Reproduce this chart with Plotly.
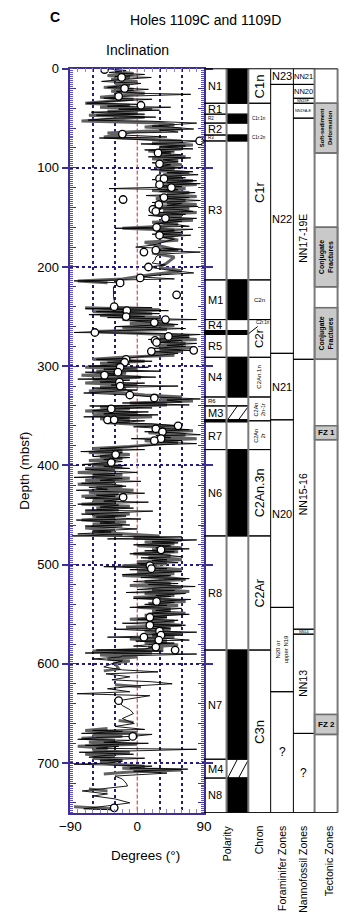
import plotly.graph_objects as go

# ---------------- DATA ----------------
# long-core inclination (thin black line): depth (mbsf) and inclination (deg)
line_depth = [0,2,4,6,8,9,11,13,15,17,19,21,23,25,26,28,30,31,33,35,
              36,38,39,41,42,44,46,47,49,50,52,53,55,56,58,59,61,62,64,65,67,69,70,
              72,73,75,76,78,79,81,82,84,85,87,89,90,92,94,95,97,99,100,102,104,105,107,109,
              110,112,113,115,116,118,119,121,122,124,125,127,128,130,131,133,135,136,138,139,
              141,142,144,145,147,148,150,151,153,154,156,157,159,161,162,
              164,165,167,168,170,172,174,176,178,180,182,183,185,187,190,193,196,198,200,203,
              206,208,210,212,214,216,
              220,230,238,240,241,242,244,245,247,248,250,251,253,254,256,258,260,262,264,266,267,
              268,270,271,273,274,276,277,279,280,282,284,285,287,289,290,
              292,293,295,296,298,300,301,303,305,306,308,309,311,313,314,316,317,319,320,322,
              324,325,327,329,
              331,333,334,336,337,339,340,342,343,345,346,348,349,351,352,354,355,357,
              358,360,361,363,364,366,367,369,370,372,373,375,376,378,379,381,383,384,386,387,
              389,391,392,394,396,397,399,400,
              401,403,404,406,407,409,410,412,413,415,416,418,419,421,422,424,425,427,428,430,
              431,433,434,436,437,439,440,442,443,445,446,448,449,451,452,454,455,457,458,460,
              461,463,464,466,467,469,470,
              471,472,474,475,477,478,480,481,483,484,486,487,489,490,492,493,495,496,498,499,
              501,502,504,505,507,508,510,511,513,514,516,517,519,520,522,523,525,526,528,529,
              531,532,534,535,537,538,540,541,543,544,546,547,549,550,552,553,555,556,558,559,
              561,562,564,565,567,568,570,571,573,574,576,577,579,580,582,583,585,
              586,587,589,590,592,593,595,597,
              600,603,606,608,610,613,616,618,620,622,625,628,630,632,634,637,642,646,650,655,
              660,663,666,
              667,668,670,671,673,674,676,677,679,680,682,683,685,686,688,689,691,692,694,695,
              697,698,
              700,701,703,705,706,708,710,713,716,720,723,726,728,731,733,736,740,743,746,747]
line_incl = [-44,-15,-38,10,-30,19,-22,-48,5,-20,-40,15,-28,5,72,-18,-45,20,-35,-68,
             5,-40,45,-25,30,-62,10,-55,25,-30,-66,15,80,60,20,45,76,30,55,-10,-20,40,-51,
             20,85,50,5,65,30,75,10,50,28,60,15,72,35,55,20,45,28,62,18,75,40,82,30,
             65,20,80,40,85,25,60,-38,55,30,78,45,12,70,35,85,20,60,40,82,
             18,55,75,30,65,15,45,80,38,60,25,50,70,-30,75,
             30,60,20,72,35,50,40,30,20,-2,60,24,85,30,25,24,20,38,15,40,
             76,30,4,50,-85,-23,
             -32,-32,-30,-31,20,-70,42,-55,30,-65,10,-40,80,-10,23,55,-30,65,-20,-85,20,
             85,42,70,15,60,26,80,40,65,20,76,19,55,30,10,
             -15,-55,20,-40,-10,-65,15,-45,30,-70,-20,-44,25,-80,-10,-50,10,-35,55,-60,
             0,-30,-72,-10,
             23,85,40,60,-20,70,-64,20,-35,-60,15,-45,28,-72,-10,-40,10,-30,
             20,55,-5,40,70,10,50,85,25,45,-8,60,20,80,30,-5,-50,10,-76,-20,
             -29,-60,-10,-45,-20,-35,-74,-15,
             -45,-10,-70,-25,0,-60,-30,-85,-20,-50,5,-75,-35,-15,-65,-40,-82,-20,10,-55,
             -30,-70,-19,-45,15,-80,-25,-50,-5,-70,21,-40,-75,-15,-55,5,-82,-30,-50,-10,
             -70,-25,0,-60,-35,-80,-20,
             -88,60,-40,80,20,55,-5,45,25,70,10,50,-10,35,60,5,40,20,55,0,
             17,-45,40,-10,60,25,-20,45,5,70,30,-5,55,15,78,35,0,50,-15,65,
             25,45,-5,72,26,50,10,40,-10,60,25,45,15,70,20,40,0,55,30,-20,
             65,20,45,-30,30,80,10,60,-40,35,70,-2,50,25,-5,24,10,
             -55,35,-70,80,-20,-23,-60,-20,
             -35,-45,-20,28,-42,-10,-34,20,47,0,-40,-10,-81,17,0,-25,-20,-10,-5,-20,
             -4,-30,10,
             -60,-20,-75,20,-6,-50,-80,-10,-45,15,-70,-25,-55,80,-30,-78,-5,-40,-65,10,
             -50,-20,
             -40,-85,20,-10,68,-5,40,-30,-20,-15,-13,-50,-74,-40,-59,-30,-10,-40,-72,-30]

# second record (thick grey line); None = no data
band_depth = [3,5,7,9,11,13,15,17,19,21,23,25,27,29,31,33,
              35,37,39,41,43,45,47,49,51,53,55,57,59,61,63,65,67,69,
              71,73,75,77,79,81,83,85,87,89,91,93,95,97,99,101,103,105,107,109,
              111,113,115,117,119,121,123,125,127,129,131,133,135,137,139,141,143,145,147,149,
              151,153,155,157,159,
              161,163,165,167,169,171,173,175,180,183,186,190,196,200,204,208,212,214,216,
              None,
              241,243,245,247,249,251,253,255,257,259,261,263,265,267,
              269,271,273,275,277,279,281,283,285,287,289,
              291,293,295,297,299,301,303,305,307,309,311,313,315,317,319,321,323,325,327,329,
              331,333,335,337,339,341,343,
              345,347,349,351,353,355,357,
              359,361,363,365,367,369,371,373,375,377,379,381,
              383,385,387,389,391,393,395,397,399,
              401,403,405,407,409,411,413,415,417,419,421,423,425,427,429,431,433,435,437,439,
              441,443,445,447,449,451,453,455,457,459,461,463,465,467,469,
              471,473,475,477,479,481,483,485,487,489,491,493,495,497,499,
              501,503,505,507,509,511,513,515,517,519,521,523,525,527,529,531,533,535,537,539,
              541,543,545,547,549,551,553,555,557,559,561,563,565,567,569,571,573,575,577,579,
              581,583,585,
              587,589,591,593,595,597,599,
              605,607,None,621,623,None,657,659,None,
              665,667,669,671,673,675,677,679,681,683,685,687,689,691,693,695,697,699,
              701,703,705,707,709,711,
              None,726,728,None,744,746]
band_incl = [-30,-5,-40,-10,-35,0,-30,-10,-45,-5,-35,10,-20,-50,-5,-40,
             -70,-10,-50,20,-40,0,-65,10,-40,-75,30,50,10,60,15,-40,-20,-45,
             10,60,20,75,30,60,15,45,30,65,20,55,35,60,25,50,30,70,35,60,
             25,75,35,80,30,65,20,70,40,80,25,65,40,80,20,70,35,80,25,60,
             40,75,20,55,35,
             -20,50,25,60,30,45,55,10,40,55,20,50,40,30,60,15,-20,-80,-40,
             None,
             -70,30,-60,20,-50,30,-20,40,-10,50,-20,40,-60,10,
             70,30,80,20,65,25,75,30,60,20,50,
             -20,-60,10,-50,-20,-70,0,-55,-15,-75,5,-60,-20,-70,0,-50,-15,-65,-20,10,
             60,30,75,-10,40,-50,-10,
             -70,0,-60,20,-50,-10,-40,
             10,60,20,75,15,65,30,80,10,55,20,-10,
             -60,-20,-65,-10,-50,-20,-65,-30,-60,
             -20,-70,-30,-80,-20,-60,-10,-70,-30,-80,-20,-55,-5,-65,-25,-75,-15,-60,-30,-75,
             -10,-55,-25,-70,-10,-60,-30,-75,-15,-60,-20,-70,-30,-60,-10,
             30,-5,60,10,50,0,60,20,55,-5,45,15,60,0,40,
             -20,30,60,0,50,-20,40,65,10,45,-10,60,20,70,10,50,-5,40,65,15,
             55,0,45,20,65,10,40,-10,50,20,60,-15,45,10,60,20,50,-10,40,10,
             55,15,35,
             -60,20,-50,0,-40,-10,-30,
             -25,-45,None,-30,5,None,-25,-5,None,
             -40,-70,0,-60,-20,-75,-30,-65,0,-80,-40,-60,-10,-70,-30,-60,-20,-50,
             -30,10,-20,60,-10,-45,
             None,-65,-40,None,-85,-35]

# discrete samples (open circles)
disc_depth = [1,9,20,28,37,66,73,85,96,111,111,117,120,132,130,137,142,144,151,160,
              168,185,183,200,211,216,228,240,244,250,253,256,266,270,274,276,285,284,293,296,
              301,306,309,316,320,329,332,343,354,354,360,363,366,373,375,389,397,432,485,501,
              504,537,553,561,567,571,573,576,583,586,637,673,745]
disc_incl = [-44,-21,-17,-25,5,-20,84,28,30,30,36,30,46,-19,36,29,21,25,38,26,
             30,9,25,15,4,-23,53,-31,-14,-15,38,23,-57,42,24,26,19,76,-15,-17,
             -23,-26,-44,-24,-23,-10,23,-35,-40,-31,55,25,34,32,23,-29,-35,-19,32,17,
             19,26,17,17,30,32,9,29,25,51,-25,-6,-31]

# polarity column
pol_top    = [0, 35, 46, 55, 67, 73, 213, 253, 264, 268, 291, 331, 340, 354, 356, 384, 471, 586, 696, 715]
pol_bottom = [35, 46, 55, 67, 73, 213, 253, 264, 268, 291, 331, 340, 354, 356, 384, 471, 586, 696, 715, 750]
pol_label  = ['N1','R1','R2','R2','R3','R3','M1','R4','N5','R5','N4','R6','M3','','R7','N6','R8','N7','M4','N8']
pol_state  = ['n','r','n','r','n','r','n','r','n','r','n','r','m','n','r','n','r','n','m','n']

# chron column
chron_top    = [0, 35, 213, 253, 291, 331, 355, 384, 471, 586]
chron_bottom = [35, 213, 253, 291, 331, 355, 384, 471, 586, 750]
chron_label  = ['C1n','C1r','C2n','C2r','C2An.1n','C2An<br>2n-1r','C2An<br>2r','C2An.3n','C2Ar','C3n']
subchron_depth = [50, 70, 256]
subchron_label = ['C1r.1n', 'C1r.2n', 'C2r.1n']

# foraminifer zones
foram_top    = [0, 16, 287, 354, 543, 628]
foram_bottom = [16, 287, 354, 543, 628, 750]
foram_label  = ['N23','N22','N21','N20','N20 or<br>upper N19','?']

# nannofossil zones
nanno_top    = [0, 16, 30, 35, 50, 293, 565, 570, 670]
nanno_bottom = [16, 30, 35, 50, 293, 565, 570, 670, 750]
nanno_label  = ['NN21','NN20','NN19F','NN19A-E','NN17-19E','NN15-16','NN14','NN13','?']

# tectonic zones
tect_top    = [0, 35, 85, 160, 220, 241, 293, 360, 374, 651, 671]
tect_bottom = [35, 85, 160, 220, 241, 293, 360, 374, 651, 671, 750]
tect_label  = ['', 'Soft-sediment<br>Deformation', '', 'Conjugate<br>Fractures', '',
               'Conjugate<br>Fractures', '', 'FZ 1', '', 'FZ 2', '']

depth_ticks = [0, 100, 200, 300, 400, 500, 600, 700]
incl_ticks = [-90, 0, 90]
incl_grid = [-60, -30, 30, 60]
column_titles = ['Polarity', 'Chron', 'Foraminifer Zones', 'Nannofossil Zones', 'Tectonic Zones']

# ---------------- STYLE / GEOMETRY ----------------
W, H = 356, 915
FONT = 'Liberation Sans, Arial, sans-serif'
PLOT_L, PLOT_R, PLOT_T, PLOT_B = 62.7, 204.0, 62.0, 812.0
COLX = [204.0, 227.7, 250.7, 274.3, 298.3, 320.7, 345.0]
AXC = '#3d2f96'
GRIDC = '#241a82'
DMAX = 750


def px(x):
    return x / W


def py(y):
    return 1 - y / H


shapes = []
annotations = []


def hline(d, x0, x1, color='black', width=1):
    shapes.append(dict(type='line', xref='paper', yref='y', x0=px(x0), x1=px(x1),
                       y0=d, y1=d, line=dict(color=color, width=width), layer='above'))


def rect(d0, d1, x0, x1, fill, lc=None, lw=0):
    shapes.append(dict(type='rect', xref='paper', yref='y', x0=px(x0), x1=px(x1),
                       y0=d0, y1=d1, fillcolor=fill,
                       line=dict(color=lc or fill, width=lw), layer='above'))


def seg(xa, da, xb, db, color='black', width=1):
    shapes.append(dict(type='line', xref='paper', yref='y', x0=px(xa), x1=px(xb),
                       y0=da, y1=db, line=dict(color=color, width=width), layer='above'))


def label(text, xc, d, size, rot=False, bold=False, xanchor='center'):
    if bold:
        text = '<b>' + text + '</b>'
    annotations.append(dict(text=text, xref='paper', yref='y', x=px(xc), y=d,
                            xanchor=xanchor, yanchor='middle', showarrow=False,
                            textangle=-90 if rot else 0,
                            font=dict(size=size, family=FONT, color='black')))


def ptext(text, xc, yc, size, rot=False, xanchor='center', yanchor='middle'):
    annotations.append(dict(text=text, xref='paper', yref='paper', x=px(xc), y=py(yc),
                            xanchor=xanchor, yanchor=yanchor, showarrow=False,
                            textangle=-90 if rot else 0,
                            font=dict(size=size, family=FONT, color='black')))


# polarity
for t, b, lab, st in zip(pol_top, pol_bottom, pol_label, pol_state):
    if st == 'n':
        if b - t < 5:
            rect(t, b, COLX[0], COLX[2], 'black')
        else:
            rect(t, b, COLX[1], COLX[2], 'black')
    elif st == 'm':
        rect(t, b, COLX[1], COLX[2], 'white', 'black', 1)
        w = COLX[2] - COLX[1]
        seg(COLX[1] + 0.05 * w, b, COLX[1] + 0.5 * w, t, 'black', 1)
        seg(COLX[1] + 0.55 * w, b, COLX[1] + 0.97 * w, t + 0.1 * (b - t), 'black', 1)
    hline(t, COLX[0], COLX[2])
    hline(b, COLX[0], COLX[2])
    if lab:
        size = 11 if b - t >= 11 else (6 if b - t >= 8 and lab == 'R6' else 4.5)
        label(lab, COLX[0] + 2.3, (t + b) / 2, size, xanchor='left')

# chron
chron_style = {'C1n': (13, True), 'C1r': (13, True), 'C2n': (6, False), 'C2r': (11.5, True),
               'C2An.1n': (6, True), 'C2An<br>2n-1r': (5.5, True), 'C2An<br>2r': (5.5, True),
               'C2An.3n': (12.5, True), 'C2Ar': (12.5, True), 'C3n': (13, True)}
for t, b, lab in zip(chron_top, chron_bottom, chron_label):
    hline(t, COLX[2], COLX[3])
    hline(b, COLX[2], COLX[3])
    s, r = chron_style[lab]
    label(lab, (COLX[2] + COLX[3]) / 2, (t + b) / 2, s, rot=r)
for d, lab in zip(subchron_depth[:2], subchron_label[:2]):
    label(lab, COLX[2] + 2, d, 4.5, xanchor='left')
annotations.append(dict(text=subchron_label[2], xref='paper', yref='y', x=px(COLX[2] + 0.5),
                        y=subchron_depth[2] + 11, ax=14, ay=-11, showarrow=True, arrowhead=0,
                        arrowwidth=1, arrowcolor='black',
                        font=dict(size=4.5, family=FONT, color='black')))

# foraminifer
for t, b, lab in zip(foram_top, foram_bottom, foram_label):
    hline(t, COLX[3], COLX[4])
    hline(b, COLX[3], COLX[4])
    if '<br>' in lab:
        label(lab, (COLX[3] + COLX[4]) / 2, (t + b) / 2, 6, rot=True)
    else:
        label(lab, (COLX[3] + COLX[4]) / 2, (t + b) / 2, 11 if lab != '?' else 12)

# nannofossil
for t, b, lab in zip(nanno_top, nanno_bottom, nanno_label):
    hline(t, COLX[4], COLX[5])
    hline(b, COLX[4], COLX[5])
    th = b - t
    xc = (COLX[4] + COLX[5]) / 2
    if lab == '?':
        label(lab, xc, (t + b) / 2, 12)
    elif th > 60:
        label(lab, xc - 1, (t + b) / 2, 10.5, rot=True)
    elif th >= 10:
        label(lab, xc, (t + b) / 2, 7.5 if len(lab) <= 4 else 3.8)
    else:
        label(lab, xc, (t + b) / 2, 3.8)

# tectonic
for t, b, lab in zip(tect_top, tect_bottom, tect_label):
    if lab:
        rect(t, b, COLX[5], COLX[6], '#c9c9c9', '#6e6e6e', 1.5)
        xc = (COLX[5] + COLX[6]) / 2
        if lab.startswith('FZ'):
            label(lab, xc, (t + b) / 2, 8, bold=True)
        elif lab.startswith('Soft'):
            label(lab, xc, (t + b) / 2, 5.8, rot=True, bold=True)
        else:
            label(lab, xc, (t + b) / 2, 7, rot=True, bold=True)
    else:
        hline(t, COLX[5], COLX[6], '#6e6e6e', 1.5)
        hline(b, COLX[5], COLX[6], '#6e6e6e', 1.5)

# column frame
for i, xx in enumerate(COLX[1:], start=1):
    gray = i in (1, 2, 5, 6)
    shapes.append(dict(type='line', xref='paper', yref='y', x0=px(xx), x1=px(xx), y0=0, y1=DMAX,
                       line=dict(color='#7a7a7a' if gray else 'black', width=2 if gray else 1),
                       layer='above'))
hline(0, COLX[0], COLX[6], 'black', 1.5)
hline(DMAX, COLX[0], COLX[6], 'black', 1.5)

# zero line (red dashed)
shapes.append(dict(type='line', xref='x', yref='y', x0=0, x1=0, y0=0, y1=DMAX,
                   line=dict(color='#d02020', width=1, dash='4px,2px'), layer='between'))

# text (explicit anchors: centre of text at the given pixel position)
ptext('<b>C</b>', 47, 10, 14)
ptext('Holes 1109C and 1109D', 205, 13.5, 14)
ptext('Inclination', 134, 43, 14)
ptext('Degrees (°)', 142, 855, 13.5)
ptext('Depth (mbsf)', 14, 467, 13.5, rot=True)
title_x = [227.7, 262, 286, 309, 336]
for t, xx in zip(column_titles, title_x):
    ptext(t, xx, 823, 10.5, rot=True, yanchor='top')

# ---------------- FIGURE ----------------
fig = go.Figure()
fig.add_trace(go.Scatter(x=band_incl, y=band_depth, mode='lines', connectgaps=False,
                         line=dict(color='#626262', width=3), hoverinfo='skip'))
fig.add_trace(go.Scatter(x=line_incl, y=line_depth, mode='lines',
                         line=dict(color='black', width=0.9), hoverinfo='skip'))
fig.add_trace(go.Scatter(x=disc_incl, y=disc_depth, mode='markers', xaxis='x2', yaxis='y2',
                         marker=dict(symbol='circle', size=7.5, color='white',
                                     line=dict(color='black', width=1.3)),
                         hoverinfo='skip'))

xdom = [px(PLOT_L), px(PLOT_R)]
ydom = [py(PLOT_B), py(PLOT_T)]
fig.update_layout(
    width=W, height=H, margin=dict(l=0, r=0, t=0, b=0),
    paper_bgcolor='white', plot_bgcolor='white', showlegend=False,
    font=dict(family=FONT, color='black'),
    xaxis=dict(domain=xdom, range=[-90, 90], tickvals=incl_ticks, ticks='inside', ticklen=4,
               tickcolor='#8c84d6', tickwidth=1.2, showline=True, linecolor=AXC, linewidth=1.5,
               mirror='ticks', showgrid=False, zeroline=False, anchor='y',
               tickfont=dict(size=13.5, family=FONT, color='black'),
               minor=dict(dtick=10, ticks='inside', ticklen=4, tickcolor='#8c84d6',
                          tickwidth=1.2, showgrid=False)),
    yaxis=dict(domain=ydom, range=[DMAX, 0], tickvals=depth_ticks, ticks='outside', ticklen=7,
               tickcolor=AXC, tickwidth=1.5, showline=True, linecolor=AXC, linewidth=1.5,
               mirror='ticks', showgrid=True, gridcolor=GRIDC, griddash='dot', gridwidth=1.6,
               zeroline=False, anchor='x',
               tickfont=dict(size=13, family=FONT, color='black'),
               minor=dict(dtick=2, ticks='inside', ticklen=3, tickcolor='#5d52b8',
                          tickwidth=1, showgrid=False)),
    xaxis2=dict(overlaying='x', range=[-90, 90], tickvals=incl_grid, ticks='', showticklabels=False,
                showgrid=True, gridcolor=GRIDC, griddash='dot', gridwidth=1.5, showline=False,
                zeroline=False, anchor='y2'),
    yaxis2=dict(overlaying='y', range=[DMAX, 0], tick0=0, dtick=20, ticks='inside', ticklen=6,
                tickcolor=AXC, tickwidth=1.3, showticklabels=False, showgrid=False,
                showline=True, linecolor=AXC, linewidth=1.5, mirror='ticks', zeroline=False,
                anchor='x2'),
    shapes=shapes, annotations=annotations,
)

fig.write_html('out.html', config={'displayModeBar': False},
               post_script="document.body.style.margin='0';")
